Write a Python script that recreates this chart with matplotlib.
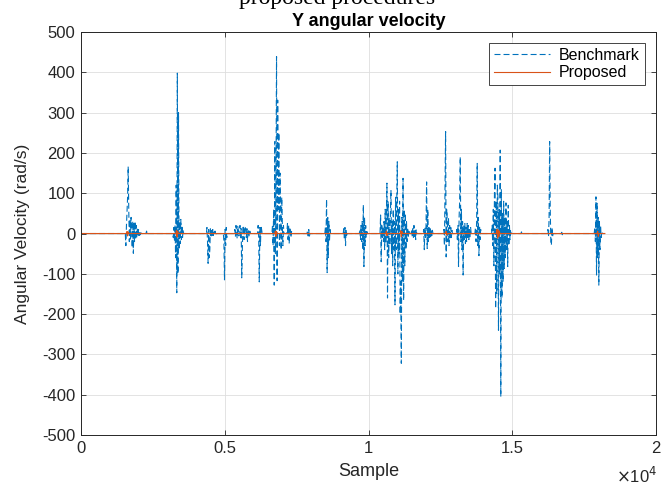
import numpy as np
import matplotlib
matplotlib.use("Agg")
import matplotlib.pyplot as plt

plt.rcParams['font.family'] = ['Liberation Sans', 'DejaVu Sans']
plt.rcParams['axes.unicode_minus'] = False
plt.rcParams['lines.scale_dashes'] = False

# burst start samples and values of the benchmark signal (step of 20 samples)
step = 20
end_sample = 18220
b1_start, b1 = 1540, [0, -30, 20, 55, 90, 166, 60, -20, 35, -15, 40, 20, -35, 30, -49, 25, -20, 30, -15, 20, -10, 15, -8, 10, -5, 6, -3, 2, 0]
b2_start, b2 = 2260, [0, 6, -4, 0]
b3_start, b3 = 3190, [0, -10, 15, -20, 20, -60, 120, -147, 398, -100, 300, -40, 30, -25, 35, -15, 20, -10, 8, 0]
b4_start, b4 = 4360, [0, 15, -20, -74, 10, -60, -40, 15, -10, 12, -8, 10, -5, 8, 0, 6, -4, 0]
b5_start, b5 = 4950, [0, -20, -115, 10, -30, 15, -10, 0]
b6_start, b6 = 5330, [0, 10, -8, 20, 5, -12, 18, 8, -6, 15, 20, -10, 12, -110, -40, 15, 20, -15, 10, 18, 8, -10, 12, -20, 10, 5, -8, 6, 0]
b7_start, b7 = 6140, [0, 20, -10, -120, 15, -30, 20, 10, 0]
b8_start, b8 = 6640, [0, 20, -30, 60, -128, 228, -50, 120, 439, -117, 331, 60, 250, -30, 150, 70, -40, 90, 30, -30, 20, 0]
b9_start, b9 = 7160, [0, 25, -15, 20, -25, 10, 15, -10, 5, 0]
b10_start, b10 = 7860, [0, 8, -6, 10, -8, 0]
b11_start, b11 = 8480, [0, 15, -20, 85, -97, 40, -60, 30, -20, 10, 0]
b12_start, b12 = 9120, [0, 12, -15, 15, -30, 10, -8, 0]
b13_start, b13 = 9680, [0, 10, -15, 20, -20, 30, -40, 71, -82, 40, -30, 20, -10, 5, 0]
b14_start, b14 = 10400, [0, 46, -70, 20, -10, 15, -20, 30, -40, 60, -25, 40, 125, -160, 80, -60, 40, -30, 50, 108,
                         -50, 30, -80, 60, -40, 30, -177, 90, -40, 60, 178, -100, 60, -50, 80, -200, -120, -322, 40, -120,
                         137, -166, 60, -80, 50, -40, 30, -20, 15, -10, 10, 0]
b15_start, b15 = 11480, [0, 10, -8, 15, -12, 20, -10, 8, -15, 10, 0]
b16_start, b16 = 11900, [0, 10, -40, 15, -10, 20, 128, -37, 60, -20, 15, -10, 12, -8, 10, -5, 8, 0]
b17_start, b17 = 12600, [0, 10, -30, 108, 253, -58, 60, 30, -20, 40, -30, 20, -15, 15, -10, 8, 0]
b18_start, b18 = 13050, [0, 10, -15, 20, -82, 40, 80, 190, -20, 60, -40, 30, -103, 20, -15, 25, -25, 15, -20, 25, -10, 20, -15, 10, -8, 15, 0]
b19_start, b19 = 13700, [0, 15, -20, 30, 174, -30, 40, -55, 20, -15, 10, 0]
b20_start, b20 = 14280, [0, 20, -30, 60, -80, 100, 162, -186, 80, -150, 120, 90, -240, 60, -100, 207, -405, 110, -160, 50,
                         -120, 80, -87, 40, -60, 76, -40, 30, -82, 70, -30, 20, -15, 10, 0]
b21_start, b21 = 15300, [0, 4, -3, 0]
b22_start, b22 = 16220, [0, 10, -8, 40, 228, 60, -20, -29, 15, -8, 0]
b23_start, b23 = 16700, [0, 3, -3, 0]
b24_start, b24 = 17850, [0, 15, -20, 91, -103, 75, -60, 40, -128, 30, -40, 20, -10, 5, 0]

# proposed estimate: small wiggles at the same bursts
p_start = [1580, 3300, 6740, 10600, 11100, 12680, 14450, 17950]
p_vals = [[0, 5, -6, 4, 0], [0, 8, -9, 6, 0], [0, 6, -7, 5, 0], [0, 6, -5, 0],
          [0, 7, -8, 5, 0], [0, 5, -4, 0], [0, 10, -12, 9, -8, 6, 0], [0, 6, -7, 0]]

bench_starts = [b1_start, b2_start, b3_start, b4_start, b5_start, b6_start, b7_start, b8_start, b9_start,
                b10_start, b11_start, b12_start, b13_start, b14_start, b15_start, b16_start, b17_start,
                b18_start, b19_start, b20_start, b21_start, b22_start, b23_start, b24_start]
bench_bursts = [b1, b2, b3, b4, b5, b6, b7, b8, b9, b10, b11, b12, b13, b14, b15, b16, b17, b18, b19,
                b20, b21, b22, b23, b24]


def build(starts, bursts):
    xs, ys = [0], [0]
    for s, vals in zip(starts, bursts):
        xs += list(s + step * np.arange(len(vals)))
        ys += list(vals)
    xs.append(end_sample)
    ys.append(0)
    return np.array(xs), np.array(ys, dtype=float)


bx, by = build(bench_starts, bench_bursts)
px, py = build(p_start, p_vals)

fig = plt.figure(figsize=(6.68, 4.86), dpi=100)
ax = fig.add_axes([0.1213, 0.1049, 0.8608, 0.8292])

ax.plot(bx, by, color='#0072BD', lw=0.8, dashes=(4.3, 2.2), label='Benchmark')
ax.plot(px, py, color='#D95319', lw=0.8, label='Proposed')

ax.set_xlim(0, 20000)
ax.set_ylim(-500, 500)
ax.set_xticks([0, 5000, 10000, 15000, 20000])
ax.set_xticklabels(['0', '0.5', '1', '1.5', '2'])
ax.set_yticks(np.arange(-500, 501, 100))
ax.grid(True, color='#DEDEDE', lw=0.6)
ax.set_axisbelow(True)
for sp in ax.spines.values():
    sp.set_color('#262626')
    sp.set_linewidth(0.7)
ax.tick_params(direction='in', length=3.5, width=0.6, colors='#262626', labelsize=12,
               top=True, right=True, pad=4)

ax.set_xlabel('Sample', fontsize=13, color='#262626', labelpad=5)
ax.set_ylabel('Angular Velocity (rad/s)', fontsize=12.5, color='#262626', labelpad=9)
ax.set_title('Y angular velocity', fontsize=13, fontweight='bold', pad=4.5)
fig.text(0.953, 0.006, r'$\times$10$^4$', fontsize=12, color='#262626', ha='center', va='baseline')

fig.text(337 / 668, 1 - 4 / 486, 'proposed procedures', family='Liberation Serif', fontsize=17,
         ha='center', va='baseline')

leg = ax.legend(loc='upper right', fontsize=11.5, handlelength=3.5, borderaxespad=0.7,
                fancybox=False, framealpha=1, edgecolor='#262626', borderpad=0.3, labelspacing=0.15,
                handletextpad=0.6)
leg.get_frame().set_linewidth(0.6)

fig.savefig('out.png', dpi=100)
